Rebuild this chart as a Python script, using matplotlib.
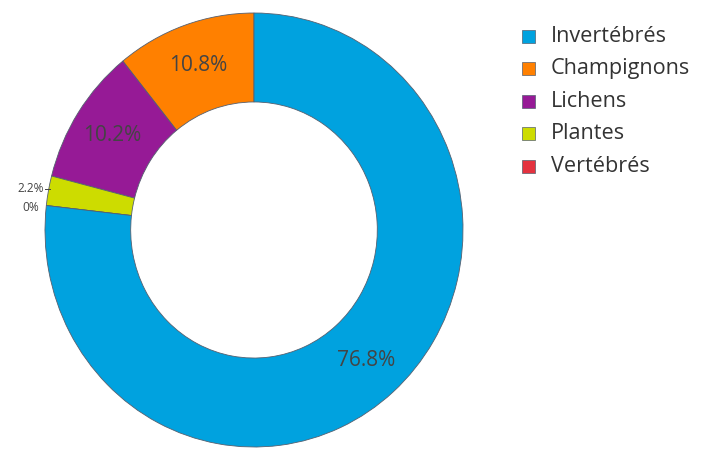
import numpy as np
import matplotlib
matplotlib.use("Agg")
import matplotlib.pyplot as plt
from matplotlib.patches import Rectangle

plt.rcParams['font.family'] = ['Open Sans', 'DejaVu Sans']

# slice order around the ring (counter-clockwise from 12 o'clock)
categories = ["Champignons", "Lichens", "Plantes", "Vertébrés", "Invertébrés"]
shares = [10.8, 10.2, 2.2, 0.0, 76.8]
colors = ["#ff8000", "#961a96", "#cddc00", "#e4323f", "#00a2df"]

# legend order
legend_order = ["Invertébrés", "Champignons", "Lichens", "Plantes", "Vertébrés"]

W, H = 707, 450
fig = plt.figure(figsize=(W / 100, H / 100), dpi=100)

# pie box: 418 x 434 px, centred at (254, 230)
cx, cy, rx, ry = 254, 230, 209, 217
ax = fig.add_axes([(cx - rx) / W, (H - cy - ry) / H, 2 * rx / W, 2 * ry / H])
ax.axis('off')

wedges, _ = ax.pie(shares, colors=colors, startangle=90, counterclock=True,
                   radius=1.0, wedgeprops=dict(width=0.41, edgecolor="#556070",
                                               linewidth=0.6))
ax.set_xlim(-1, 1)
ax.set_ylim(-1, 1)
ax.set_aspect('auto')

text_color = "#444444"
for w, v in zip(wedges, shares):
    mid = np.deg2rad((w.theta1 + w.theta2) / 2)
    label = f"{v:g}%"
    if v >= 5:
        r = 0.805
        ax.text(r * np.cos(mid), r * np.sin(mid), label, ha='center', va='center',
                fontsize=15, color=text_color)
    else:
        x0, y0 = np.cos(mid), np.sin(mid)
        if v > 0:
            ax.plot([x0 + 0.005, x0 - 0.02], [y0 + 0.01, y0 + 0.01],
                    color=text_color, lw=0.7)
            ax.text(x0 - 0.02, y0 + 0.012, label, ha='right', va='center',
                    fontsize=8.6, color=text_color)
        else:
            ax.text(x0 - 0.035, y0 - 0.01, label, ha='right', va='center',
                    fontsize=8.6, color=text_color)

# legend
color_of = dict(zip(categories, colors))
for i, name in enumerate(legend_order):
    yc = 36.5 + i * 32.4
    fig.add_artist(Rectangle((522 / W, 1 - (yc + 6.5) / H), 13 / W, 13 / H,
                             transform=fig.transFigure, facecolor=color_of[name],
                             edgecolor="#556070", linewidth=0.5))
    fig.text(551 / W, 1 - yc / H, name, ha='left', va='center',
             fontsize=15.6, color="#333333")

fig.savefig("out.png", dpi=100)
